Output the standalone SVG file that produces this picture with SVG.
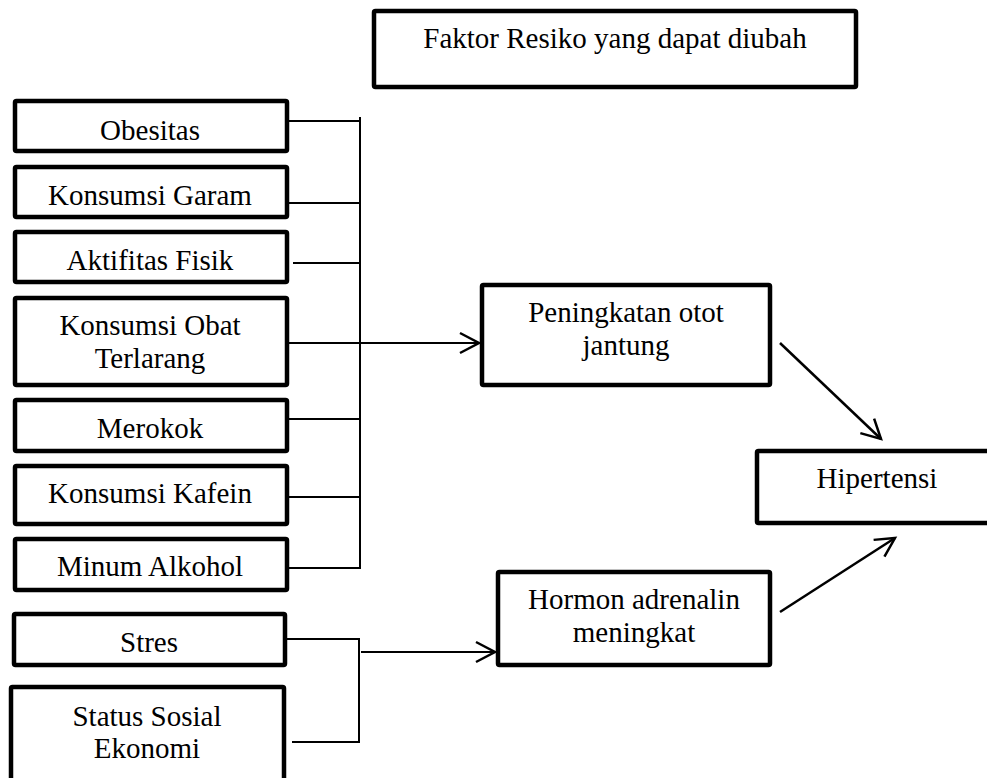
<svg xmlns="http://www.w3.org/2000/svg" width="987" height="778" viewBox="0 0 987 778">
<style>
.box{fill:#fff;stroke:#000;stroke-width:4.5;}
.t{font-family:"Liberation Serif","Times New Roman",serif;font-size:29px;fill:#000;text-anchor:middle;}
.c{fill:none;stroke:#000;stroke-width:2;}
.a{fill:none;stroke:#000;stroke-width:2.5;}
</style>
<defs>
<marker id="arr" markerUnits="userSpaceOnUse" markerWidth="30" markerHeight="30" viewBox="-22 -15 26 30" refX="0" refY="0" orient="auto">
<path d="M-19,-10 L0,0 L-19,10" fill="none" stroke="#000" stroke-width="2.5"/>
</marker>
</defs>
<rect width="987" height="778" fill="#fff"/>
<g id="title"><rect class="box" x="374" y="11" width="482" height="76" rx="1.5"/><text class="t" x="615" y="48">Faktor Resiko yang dapat diubah</text></g>
<g id="obesitas"><rect class="box" x="15" y="101" width="272" height="50" rx="1.5"/><text class="t" x="150" y="140">Obesitas</text></g>
<g id="garam"><rect class="box" x="15" y="167" width="272" height="50" rx="1.5"/><text class="t" x="150" y="205">Konsumsi Garam</text></g>
<g id="aktifitas"><rect class="box" x="15" y="232" width="272" height="50" rx="1.5"/><text class="t" x="150" y="270">Aktifitas Fisik</text></g>
<g id="obat"><rect class="box" x="15" y="298" width="272" height="87" rx="1.5"/><text class="t" x="150" y="335">Konsumsi Obat</text><text class="t" x="150" y="368">Terlarang</text></g>
<g id="merokok"><rect class="box" x="15" y="400" width="272" height="51" rx="1.5"/><text class="t" x="150" y="438">Merokok</text></g>
<g id="kafein"><rect class="box" x="15" y="466" width="272" height="58" rx="1.5"/><text class="t" x="150" y="503">Konsumsi Kafein</text></g>
<g id="alkohol"><rect class="box" x="15" y="539" width="272" height="51" rx="1.5"/><text class="t" x="150" y="576">Minum Alkohol</text></g>
<g id="stres"><rect class="box" x="14" y="614" width="271" height="51" rx="1.5"/><text class="t" x="149" y="652">Stres</text></g>
<g id="status"><rect class="box" x="11" y="687" width="273" height="110" rx="1.5"/><text class="t" x="147" y="726">Status Sosial</text><text class="t" x="147" y="758">Ekonomi</text></g>
<g id="peningkatan"><rect class="box" x="482" y="285" width="288" height="100" rx="1.5"/><text class="t" x="626" y="322">Peningkatan otot</text><text class="t" x="626" y="355">jantung</text></g>
<g id="hormon"><rect class="box" x="498" y="572" width="272" height="93" rx="1.5"/><text class="t" x="634" y="609">Hormon adrenalin</text><text class="t" x="634" y="642">meningkat</text></g>
<g id="hipertensi"><rect class="box" x="757" y="451" width="260" height="72" rx="1.5"/><text class="t" x="877" y="488">Hipertensi</text></g>
<g id="connectors">
<path class="c" d="M289,121 H360 M289,203 H360 M293,263 H360 M289,343 H360 M289,419 H360 M289,497 H360 M289,568 H360 M360,117 V569"/>
<path class="c" d="M360,343 H479" marker-end="url(#arr)"/>
<path class="c" d="M287,639 H359 V742 H292"/>
<path class="c" d="M361,652 H495" marker-end="url(#arr)"/>
<path class="a" d="M780,343 L881,439" marker-end="url(#arr)"/>
<path class="a" d="M780,612 L895,538" marker-end="url(#arr)"/>
</g>
</svg>
